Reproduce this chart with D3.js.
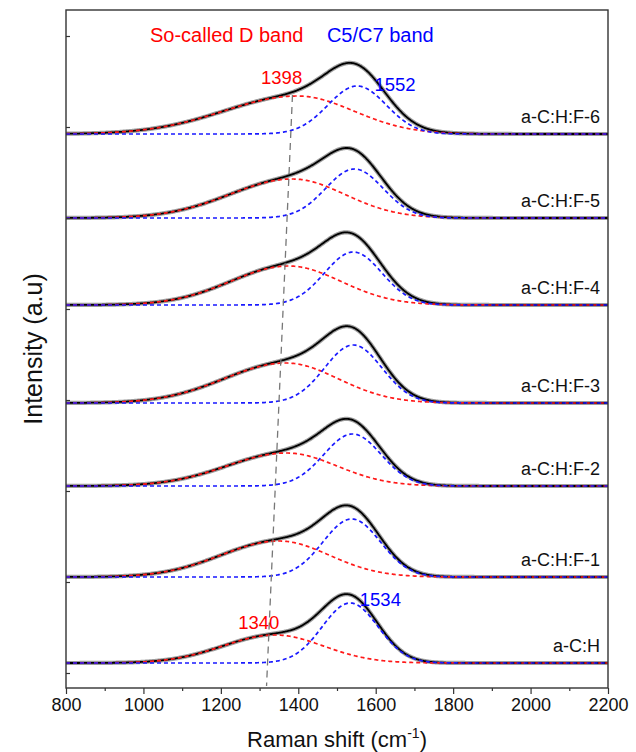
<!DOCTYPE html>
<html>
<head>
    <script src="https://cdnjs.cloudflare.com/ajax/libs/d3/7.8.5/d3.min.js"></script>
    <style>
        body { margin: 0; background: #fff; }
        svg text { font-family: "Liberation Sans", Arial, sans-serif; }
    </style>
</head>
<body>
    <div id="chart"></div>
    <script>
        // Samples, bottom to top
        const samples = ["a-C:H", "a-C:H:F-1", "a-C:H:F-2", "a-C:H:F-3", "a-C:H:F-4", "a-C:H:F-5", "a-C:H:F-6"];
        // Vertical offset of each spectrum (a.u.)
        const offsets = [25, 111, 202, 285, 383, 470, 554];

        // Fitted "so-called D band" (red): centre, height, left/right width
        const dCenter = [1340, 1350, 1370, 1368, 1375, 1385, 1398];
        const dAmp    = [28, 36, 33, 40, 39, 39, 38];
        const dSigL   = [135, 150, 155, 160, 150, 162, 190];
        const dSigR   = [125, 130, 130, 135, 135, 135, 145];

        // Fitted C5/C7 (G) band (blue): centre, height, width
        const gCenter = [1534, 1538, 1540, 1542, 1542, 1545, 1552];
        const gAmp    = [60, 58, 52, 58, 53, 49, 48];
        const gSig    = [72, 74, 74, 74, 74, 74, 75];

        // Peak labels
        const peakLabels = [
            { text: "1398", x: 1357, y: 604, color: "red" },
            { text: "1552", x: 1650, y: 597, color: "blue" },
            { text: "1340", x: 1298, y: 59, color: "red" },
            { text: "1534", x: 1612, y: 82, color: "blue" }
        ];

        // Guide line for D band shift (Raman shift, a.u.)
        const guide = [[1385, 593], [1318, 2]];

        const xTicks = [800, 1000, 1200, 1400, 1600, 1800, 2000, 2200];
        const xMinor = [900, 1100, 1300, 1500, 1700, 1900, 2100];
        const yTicks = [15, 106, 197, 288, 379, 470, 561, 652];

        const width = 636, height = 752;
        const margin = { top: 10, right: 28, bottom: 64, left: 66 };
        const iw = width - margin.left - margin.right;
        const ih = height - margin.top - margin.bottom;

        const svg = d3.select("#chart").append("svg")
            .attr("width", width)
            .attr("height", height);

        const g = svg.append("g")
            .attr("transform", `translate(${margin.left},${margin.top})`);

        const x = d3.scaleLinear().domain([800, 2200]).range([0, iw]);
        const y = d3.scaleLinear().domain([0, 678]).range([ih, 0]);

        const grid = d3.range(800, 2201, 2);

        function dBand(i, w) {
            const s = w < dCenter[i] ? dSigL[i] : dSigR[i];
            return dAmp[i] * Math.exp(-Math.pow(w - dCenter[i], 2) / (2 * s * s));
        }
        function gBand(i, w) {
            return gAmp[i] * Math.exp(-Math.pow(w - gCenter[i], 2) / (2 * gSig[i] * gSig[i]));
        }

        const line = d3.line().x(d => x(d[0])).y(d => y(d[1]));

        const plot = g.append("g");
        samples.forEach((name, i) => {
            const off = offsets[i];
            const red = grid.map(w => [w, off + dBand(i, w)]);
            const blue = grid.map(w => [w, off + gBand(i, w)]);
            const sum = grid.map(w => [w, off + dBand(i, w) + gBand(i, w)]);

            plot.append("path").attr("d", line(sum))
                .attr("fill", "none").attr("stroke", "#8c8c8c")
                .attr("stroke-width", 4.2).attr("stroke-opacity", 0.85);
            plot.append("path").attr("d", line(sum))
                .attr("fill", "none").attr("stroke", "#000")
                .attr("stroke-width", 1.8);
            plot.append("path").attr("d", line(red))
                .attr("fill", "none").attr("stroke", "#ff1a1a")
                .attr("stroke-width", 1.7).attr("stroke-dasharray", "4,3");
            plot.append("path").attr("d", line(blue))
                .attr("fill", "none").attr("stroke", "#1a1aff")
                .attr("stroke-width", 1.7).attr("stroke-dasharray", "4,3");

            g.append("text")
                .attr("x", iw - 8)
                .attr("y", y(off) - 11)
                .attr("text-anchor", "end")
                .attr("font-size", 18)
                .attr("fill", "#111")
                .text(name);
        });

        // D band guide line
        g.append("line")
            .attr("x1", x(guide[0][0])).attr("y1", y(guide[0][1]))
            .attr("x2", x(guide[1][0])).attr("y2", y(guide[1][1]))
            .attr("stroke", "#777").attr("stroke-width", 1.3)
            .attr("stroke-dasharray", "7,5");

        peakLabels.forEach(p => {
            g.append("text")
                .attr("x", x(p.x)).attr("y", y(p.y))
                .attr("text-anchor", "middle")
                .attr("font-size", 18.5)
                .attr("fill", p.color)
                .text(p.text);
        });

        // Band titles
        g.append("text").attr("x", x(1017)).attr("y", 32)
            .attr("font-size", 20).attr("fill", "red")
            .text("So-called D band");
        g.append("text").attr("x", x(1474)).attr("y", 32)
            .attr("font-size", 20).attr("fill", "blue")
            .text("C5/C7 band");

        // Axes
        const xAxis = g.append("g")
            .attr("transform", `translate(0,${ih})`)
            .call(d3.axisBottom(x).tickValues(xTicks).tickSize(6).tickPadding(4).tickFormat(d3.format("d")));
        xAxis.selectAll("text").attr("font-size", 18).attr("fill", "#111");
        xAxis.select(".domain").remove();

        g.append("g")
            .attr("transform", `translate(0,${ih})`)
            .call(d3.axisBottom(x).tickValues(xMinor).tickSize(3).tickFormat(""))
            .select(".domain").remove();

        g.append("g")
            .call(d3.axisLeft(y).tickValues(yTicks).tickSize(-4).tickFormat(""))
            .select(".domain").remove();

        g.selectAll(".tick line").attr("stroke", "#333").attr("stroke-width", 1.2);

        // Frame
        g.append("rect")
            .attr("x", 0).attr("y", 0)
            .attr("width", iw).attr("height", ih)
            .attr("fill", "none")
            .attr("stroke", "#333").attr("stroke-width", 1.4);

        // Axis titles
        const xt = svg.append("text")
            .attr("x", margin.left + iw / 2)
            .attr("y", height - 5)
            .attr("text-anchor", "middle")
            .attr("font-size", 22)
            .attr("fill", "#111");
        xt.append("tspan").text("Raman shift (cm");
        xt.append("tspan").attr("dy", -9).attr("font-size", 14).text("-1");
        xt.append("tspan").attr("dy", 9).text(")");

        svg.append("text")
            .attr("transform", `translate(42,${margin.top + ih / 2}) rotate(-90)`)
            .attr("text-anchor", "middle")
            .attr("font-size", 25)
            .attr("fill", "#111")
            .text("Intensity (a.u)");
    </script>
</body>
</html>
